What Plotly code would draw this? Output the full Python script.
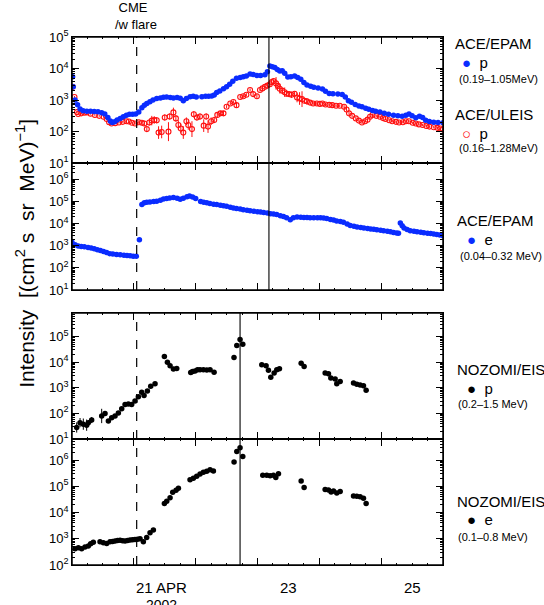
import math
import plotly.graph_objects as go

# ---------------- DATA (time in days after 2002-04-20 00:00 UT, values as log10 intensity) -------------
epam_p_day = [0.01,0.02,0.05,0.09,0.13,0.18,0.24,0.30,0.36,0.42,0.48,0.53,0.58,0.62,0.65,0.69,0.73,0.78,0.83,0.88,
              0.93,0.98,1.03,1.08,1.13,1.17,1.21,1.26,1.31,1.37,1.43,1.48,1.53,1.59,1.64,1.70,1.75,1.80,1.85,1.91,
              1.96,2.01,2.10,2.16,2.21,2.26,2.30,2.34,2.39,2.45,2.50,2.55,2.60,2.66,2.72,2.77,2.82,2.88,2.93,2.99,
              3.05,3.12,3.16,3.20,3.24,3.28,3.32,3.36,3.40,3.44,3.49,3.54,3.60,3.65,3.70,3.75,3.80,3.86,3.91,3.98,
              4.05,4.10,4.16,4.22,4.30,4.37,4.42,4.47,4.52,4.58,4.64,4.69,4.75,4.80,4.86,4.91,4.98,5.05,5.12,5.20,
              5.27,5.34,5.40,5.45,5.50,5.56,5.62,5.67,5.72,5.78,5.85,5.92,6.00]
epam_p_log = [3.74,3.42,3.00,2.85,2.72,2.66,2.65,2.65,2.64,2.63,2.60,2.56,2.45,2.34,2.29,2.31,2.37,2.42,2.47,2.52,
              2.55,2.55,2.56,2.62,2.76,2.84,2.89,2.95,3.00,3.05,3.07,3.09,3.10,3.08,3.07,3.08,3.06,2.98,3.05,3.11,
              3.12,3.10,3.11,3.12,3.12,3.13,3.16,3.24,3.29,3.36,3.42,3.50,3.60,3.69,3.72,3.74,3.76,3.83,3.81,3.78,
              3.78,3.80,3.90,4.08,4.06,4.03,3.97,3.92,3.93,3.85,3.73,3.74,3.76,3.72,3.66,3.56,3.48,3.44,3.41,3.38,
              3.35,3.28,3.21,3.20,3.19,3.18,3.10,2.98,2.93,2.86,2.81,2.79,2.74,2.71,2.67,2.65,2.62,2.58,2.55,2.52,
              2.50,2.49,2.52,2.56,2.50,2.44,2.49,2.45,2.36,2.32,2.30,2.29,2.28]

uleis_p_day = [0.01,0.04,0.08,0.10,0.15,0.20,0.24,0.30,0.37,0.44,0.51,0.56,0.60,0.64,0.70,0.76,0.82,0.88,0.92,0.97,
               1.02,1.08,1.13,1.17,1.21,1.25,1.29,1.33,1.37,1.40,1.45,1.50,1.56,1.58,1.64,1.68,1.72,1.76,1.80,1.85,
               1.88,1.94,1.97,2.02,2.07,2.13,2.17,2.20,2.25,2.30,2.35,2.40,2.45,2.50,2.56,2.61,2.66,2.72,2.77,2.82,
               2.88,2.93,2.99,3.04,3.08,3.12,3.16,3.20,3.23,3.26,3.30,3.33,3.36,3.40,3.44,3.47,3.51,3.55,3.60,3.64,
               3.68,3.72,3.76,3.80,3.85,3.90,3.96,4.01,4.05,4.10,4.16,4.21,4.27,4.33,4.40,4.44,4.48,4.53,4.59,4.64,
               4.69,4.74,4.78,4.82,4.86,4.92,4.98,5.03,5.07,5.13,5.18,5.24,5.29,5.35,5.40,5.45,5.51,5.56,5.61,5.67,
               5.73,5.78,5.85,5.91,5.96,6.00]
uleis_p_log = [3.42,3.10,2.62,2.56,2.58,2.60,2.61,2.57,2.53,2.50,2.47,2.40,2.30,2.26,2.27,2.29,2.31,2.33,2.32,2.28,
               2.26,2.30,2.28,2.26,2.08,2.29,2.35,2.37,2.36,1.97,1.99,2.45,2.00,2.48,2.61,2.42,2.21,2.10,1.97,2.33,
               2.21,2.08,2.55,2.45,2.48,2.19,2.48,2.16,2.33,2.37,2.53,2.58,2.58,2.79,2.89,2.94,2.84,3.10,3.12,3.17,
               3.32,3.19,3.12,3.32,3.37,3.42,3.46,3.50,3.57,3.60,3.53,3.45,3.36,3.30,3.25,3.20,3.19,3.17,3.20,3.08,
               3.05,3.03,2.98,2.96,2.92,2.89,2.89,2.88,2.89,2.86,2.85,2.84,2.82,2.82,2.79,2.70,2.58,2.50,2.42,2.35,
               2.29,2.33,2.38,2.47,2.53,2.50,2.47,2.43,2.40,2.36,2.33,2.31,2.29,2.30,2.33,2.33,2.28,2.26,2.23,2.21,
               2.18,2.16,2.14,2.12,2.10,2.07]
uleis_p_err = [0.03,0.03,0.03,0.03,0.03,0.03,0.03,0.03,0.03,0.03,0.03,0.03,0.03,0.03,0.03,0.03,0.03,0.03,0.03,0.03,
               0.04,0.05,0.06,0.08,0.06,0.10,0.15,0.12,0.10,0.20,0.20,0.10,0.30,0.10,0.15,0.10,0.15,0.15,0.20,0.12,
               0.15,0.25,0.10,0.10,0.10,0.20,0.10,0.20,0.12,0.10,0.08,0.08,0.08,0.05,0.05,0.05,0.08,0.05,0.05,0.05,
               0.05,0.08,0.08,0.05,0.05,0.05,0.05,0.05,0.05,0.05,0.20,0.08,0.15,0.08,0.15,0.08,0.08,0.10,0.08,0.15,
               0.20,0.25,0.08,0.10,0.06,0.06,0.06,0.05,0.05,0.05,0.05,0.05,0.05,0.05,0.05,0.05,0.05,0.05,0.05,0.05,
               0.05,0.04,0.04,0.04,0.04,0.04,0.04,0.04,0.04,0.04,0.04,0.04,0.04,0.04,0.04,0.04,0.04,0.04,0.04,0.04,
               0.04,0.04,0.04,0.04,0.04,0.04]

epam_e_day = [0.00,0.05,0.10,0.15,0.20,0.26,0.31,0.36,0.41,0.46,0.51,0.56,0.61,0.66,0.72,0.78,0.84,0.89,0.94,0.99,
              1.04,1.09,1.13,1.17,1.21,1.26,1.32,1.37,1.43,1.48,1.53,1.58,1.64,1.70,1.75,1.80,1.86,1.90,1.95,2.00,
              2.08,2.13,2.18,2.23,2.29,2.34,2.40,2.45,2.50,2.56,2.61,2.66,2.72,2.77,2.83,2.88,2.94,3.00,3.05,3.10,
              3.16,3.21,3.26,3.31,3.37,3.42,3.47,3.53,3.58,3.64,3.70,3.75,3.80,3.85,3.91,3.97,4.02,4.07,4.12,4.18,
              4.23,4.28,4.34,4.39,4.45,4.50,4.56,4.61,4.67,4.72,4.78,4.83,4.88,4.93,4.99,5.04,5.10,5.15,5.20,5.25,
              5.28,5.31,5.34,5.37,5.42,5.47,5.53,5.58,5.64,5.69,5.75,5.80,5.85,5.90,5.95,6.00]
epam_e_log = [3.16,3.05,2.99,2.97,2.95,2.92,2.90,2.86,2.82,2.78,2.74,2.69,2.64,2.63,2.61,2.59,2.57,2.56,2.55,2.53,
              2.52,3.27,4.86,4.94,4.97,4.98,5.00,5.01,5.06,5.11,5.14,5.16,5.18,5.15,5.10,5.15,5.21,5.25,5.20,5.13,
              5.00,4.97,4.94,4.91,4.88,4.86,4.83,4.81,4.78,4.74,4.71,4.68,4.66,4.63,4.60,4.58,4.56,4.54,4.52,4.50,
              4.48,4.45,4.43,4.41,4.36,4.32,4.27,4.18,4.27,4.30,4.29,4.28,4.28,4.27,4.27,4.27,4.26,4.25,4.23,4.19,
              4.16,4.12,4.09,4.06,3.98,3.92,3.88,3.85,3.82,3.80,3.78,3.76,3.74,3.72,3.70,3.68,3.65,3.63,3.60,3.58,
              3.57,4.03,3.90,3.80,3.73,3.68,3.65,3.63,3.61,3.59,3.57,3.55,3.53,3.51,3.48,3.45]

nozomi_p_day = [0.076,0.13,0.183,0.237,0.264,0.318,0.48,0.534,0.588,0.642,0.696,0.75,0.804,0.858,0.911,0.965,1.019,
                1.073,1.127,1.165,1.219,1.273,1.343,1.494,1.543,1.586,1.64,1.694,1.92,1.95,1.99,2.03,2.07,2.125,
                2.18,2.233,2.298,2.62,2.665,2.718,2.762,3.069,3.139,3.177,3.215,3.269,3.312,3.355,3.706,3.754,
                4.094,4.148,4.186,4.256,4.282,4.337,4.553,4.606,4.66,4.714,4.757]
nozomi_p_log = [1.45,1.64,1.58,1.54,1.64,1.74,1.90,2.00,1.70,1.83,1.90,2.02,2.18,2.35,2.37,2.35,2.48,
                2.65,2.83,2.70,2.87,3.06,3.16,4.22,4.00,3.86,3.73,3.75,3.60,3.64,3.66,3.70,3.70,3.70,
                3.69,3.70,3.61,4.18,4.65,4.89,4.70,3.90,3.86,3.68,3.41,3.58,3.70,3.74,3.96,3.83,
                3.58,3.55,3.38,3.34,3.16,3.25,3.19,3.14,3.11,3.08,2.90]
nozomi_p_err = [0.20,0.18,0.22,0.22,0.10,0.12,0.28,0.06,0.06,0.05,0.05,0.04,0.04,0.04,0.03,0.03,0.03,
                0.03,0.03,0.03,0.03,0.02,0.02,0,0,0,0,0,0,0,0,0,0,0,
                0,0,0,0,0,0,0,0,0,0,0,0,0,0,0,0,
                0,0,0,0,0,0,0,0,0,0,0]

nozomi_e_day = [0.049,0.103,0.156,0.21,0.264,0.302,0.345,0.453,0.507,0.561,0.615,0.656,0.696,0.737,0.777,0.818,
                0.858,0.899,0.939,0.98,1.019,1.06,1.1,1.154,1.208,1.262,1.316,1.494,1.532,1.586,1.629,1.683,1.721,
                1.909,1.963,2.017,2.071,2.125,2.179,2.233,2.287,2.621,2.665,2.718,2.762,3.085,3.15,3.204,3.258,
                3.296,3.339,3.706,3.754,4.094,4.148,4.191,4.229,4.282,4.337,4.553,4.606,4.66,4.714,4.757]
nozomi_e_log = [2.62,2.66,2.62,2.69,2.72,2.81,2.87,2.89,2.85,2.82,2.89,2.90,2.91,2.93,2.94,2.92,
                2.91,2.93,2.95,2.96,2.97,2.98,3.00,2.89,3.05,3.23,3.33,4.34,4.43,4.56,4.77,4.85,4.92,
                5.25,5.31,5.38,5.47,5.53,5.57,5.63,5.58,5.92,6.32,6.47,6.13,5.42,5.42,5.40,5.42,
                5.33,5.48,5.20,4.95,4.88,4.86,4.78,4.82,4.74,4.80,4.63,4.62,4.60,4.54,4.34]

cme_time = 1.046          # CME with flare, 21 Apr
ace_shock = 3.185         # shock at ACE
nozomi_shock = 2.718      # shock at NOZOMI

date_label_pos = [1.45, 3.5, 5.5]
date_label_txt = ["21 APR", "23", "25"]
year_label = "2002"

# ---------------- FIGURE -----------------
FONT = "Arial"
BLUE = "#0a2cff"
RED = "#ff1010"

def val(logs):
    return [10 ** v for v in logs]

def errs(logs, e, up=True):
    out = []
    for l, d in zip(logs, e):
        out.append((10 ** (l + d) - 10 ** l) if up else (10 ** l - 10 ** (l - d)))
    return out

fig = go.Figure()

fig.add_trace(go.Scatter(x=uleis_p_day, y=val(uleis_p_log), mode="markers", xaxis="x", yaxis="y",
                         marker=dict(symbol="circle-open", size=5, color=RED, line=dict(width=1.1, color=RED)),
                         error_y=dict(type="data", array=errs(uleis_p_log, uleis_p_err, True),
                                      arrayminus=errs(uleis_p_log, uleis_p_err, False),
                                      color=RED, thickness=1, width=0),
                         showlegend=False))
fig.add_trace(go.Scatter(x=epam_p_day, y=val(epam_p_log), mode="markers", xaxis="x", yaxis="y",
                         marker=dict(size=5.5, color=BLUE), showlegend=False))
fig.add_trace(go.Scatter(x=epam_e_day, y=val(epam_e_log), mode="markers", xaxis="x2", yaxis="y2",
                         marker=dict(size=5.5, color=BLUE), showlegend=False))
fig.add_trace(go.Scatter(x=nozomi_p_day, y=val(nozomi_p_log), mode="markers", xaxis="x3", yaxis="y3",
                         marker=dict(size=5.5, color="black"),
                         error_y=dict(type="data", array=errs(nozomi_p_log, nozomi_p_err, True),
                                      arrayminus=errs(nozomi_p_log, nozomi_p_err, False),
                                      color="black", thickness=1, width=0),
                         showlegend=False))
fig.add_trace(go.Scatter(x=nozomi_e_day, y=val(nozomi_e_log), mode="markers", xaxis="x4", yaxis="y4",
                         marker=dict(size=5.5, color="black"), showlegend=False))

domains = [[0.761, 1.0], [0.5208, 0.761], [0.2386, 0.4773], [0.0, 0.2386]]
yranges = [[1, 5], [1, 6.73], [1, 5.92], [2, 6.8]]
yexps = [[1, 2, 3, 4, 5], [1, 2, 3, 4, 5, 6], [1, 2, 3, 4, 5], [2, 3, 4, 5, 6]]

def minor_vals(lo, hi):
    out = []
    for e in range(int(lo), int(hi) + 1):
        for k in range(2, 10):
            v = k * 10 ** e
            if lo < math.log10(v) < hi:
                out.append(v)
    return out

layout = dict(width=544, height=605, margin=dict(l=72, r=101, t=37, b=40),
              paper_bgcolor="white", plot_bgcolor="white", showlegend=False,
              font=dict(family=FONT, color="black"))

for i in range(4):
    n = "" if i == 0 else str(i + 1)
    layout["xaxis" + n] = dict(domain=[0, 1], range=[0, 6], anchor="y" + n, showticklabels=False,
                               tickmode="array", tickvals=[0, 1, 2, 3, 4, 5, 6], ticks="inside", ticklen=7,
                               tickwidth=1.1, tickcolor="black",
                               minor=dict(tickmode="array", tickvals=[k / 4 for k in range(1, 24)],
                                          ticks="inside", ticklen=2, tickcolor="black", tickwidth=0.8),
                               showline=True, linecolor="black", linewidth=0.6, mirror="ticks",
                               showgrid=False, zeroline=False)
    ex = yexps[i]
    layout["yaxis" + n] = dict(type="log", domain=domains[i], range=yranges[i], anchor="x" + n,
                               tickmode="array", tickvals=[10 ** e for e in ex],
                               ticktext=["10<sup>%d</sup>" % e for e in ex],
                               ticks="inside", ticklen=7, tickwidth=1.1, tickcolor="black",
                               minor=dict(tickmode="array", tickvals=minor_vals(*yranges[i]),
                                          ticks="inside", ticklen=3.5, tickcolor="black", tickwidth=0.8),
                               showline=True, linecolor="black", linewidth=0.6, mirror="ticks",
                               showgrid=False, zeroline=False,
                               tickfont=dict(family=FONT, size=13, color="black"))

fig.update_layout(**layout)

# panel frames and event lines
shapes = []
for d in domains:
    shapes.append(dict(type="rect", xref="paper", yref="paper", x0=0, x1=1, y0=d[0], y1=d[1],
                       line=dict(color="black", width=1.5), fillcolor="rgba(0,0,0,0)", layer="above"))
shapes += [
    dict(type="line", xref="x", yref="paper", x0=cme_time, x1=cme_time, y0=domains[1][0], y1=1,
         line=dict(color="black", width=1.2, dash="dash")),
    dict(type="line", xref="x", yref="paper", x0=cme_time, x1=cme_time, y0=0, y1=domains[2][1],
         line=dict(color="black", width=1.2, dash="dash")),
    dict(type="line", xref="x", yref="paper", x0=ace_shock, x1=ace_shock, y0=domains[1][0], y1=1,
         line=dict(color="black", width=1.1)),
    dict(type="line", xref="x", yref="paper", x0=nozomi_shock, x1=nozomi_shock, y0=0, y1=domains[2][1],
         line=dict(color="black", width=1.1)),
]
fig.update_layout(shapes=shapes)

ann = []
def text(x, y, s, size, xanchor="left", yanchor="middle", xref="paper", yref="paper", angle=0, align="left"):
    ann.append(dict(x=x, y=y, xref=xref, yref=yref, text=s, showarrow=False, xanchor=xanchor,
                    yanchor=yanchor, textangle=angle, align=align,
                    font=dict(family=FONT, size=size, color="black")))

# y title
text(-0.127, 0.591, "Intensity  [(cm<sup>2</sup> s  sr  MeV)<sup>−1</sup>]", 21, xanchor="center", angle=-90)
# CME label
text(0.1105, 1.040, "\u00a0CME<br>/w flare", 13)
# date labels
for p, s in zip(date_label_pos, date_label_txt):
    text(p, -0.0417, s, 15, xanchor="center", xref="x4", align="center")
text(date_label_pos[0], -0.0755, year_label, 14, xanchor="center", xref="x4", align="center")

# legends
bdot = '<span style="color:%s">●</span>' % BLUE
rdot = '<span style="color:%s">○</span>' % RED
kdot = '●'
text(1.027, 0.987, "ACE/EPAM", 15)
text(1.047, 0.951, bdot + "  p", 15)
text(1.038, 0.920, "(0.19–1.05MeV)", 11)
text(1.027, 0.854, "ACE/ULEIS", 15)
text(1.047, 0.818, rdot + "  p", 15)
text(1.038, 0.790, "(0.16–1.28MeV)", 11)

text(1.032, 0.652, "ACE/EPAM", 15)
text(1.060, 0.617, bdot + "  e", 15)
text(1.040, 0.586, "(0.04–0.32 MeV)", 11)

text(1.032, 0.371, "NOZOMI/EIS", 15)
text(1.060, 0.335, kdot + "  p", 15)
text(1.035, 0.304, "(0.2–1.5 MeV)", 11)

text(1.032, 0.121, "NOZOMI/EIS", 15)
text(1.060, 0.086, kdot + "  e", 15)
text(1.035, 0.053, "(0.1–0.8 MeV)", 11)

fig.update_layout(annotations=ann)

fig.write_html("out.html")
